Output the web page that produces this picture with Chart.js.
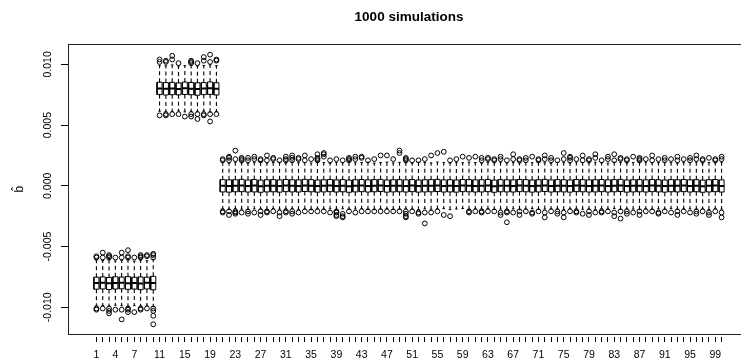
<!DOCTYPE html>
<html>
<head>
<meta charset="utf-8">
<script src="https://cdn.jsdelivr.net/npm/chart.js@4/dist/chart.umd.min.js"></script>
<style>
  html, body { margin: 0; padding: 0; overflow: hidden; background: #fff; }
  #wrap { width: 760px; height: 363px; }
</style>
</head>
<body>
<div id="wrap"><canvas id="c" width="760" height="363"></canvas></div>
<script>
// Box numbers 1..100 (one box per estimated coefficient)
const boxIds = Array.from({ length: 100 }, (_, i) => i + 1);

// Labelled x ticks (every box has a tick mark, only these carry text)
const xTickLabels = ['1','4','7','11','15','19','23','27','31','35','39','43','47','51','55',
  '59','63','67','71','75','79','83','87','91','95','99'];
const yTicks = [-0.010, -0.005, 0.000, 0.005, 0.010];

// Five-number summaries per box
const med = [
  -0.00801,-0.00799,-0.00803,-0.00800,-0.00798,-0.00802,-0.00800,-0.00804,-0.00799,-0.00801,
  0.00802,0.00799,0.00801,0.00798,0.00803,0.00800,0.00797,0.00801,0.00804,0.00799,
  0.00001,-0.00002,0.00000,0.00003,-0.00001,0.00002,-0.00003,0.00000,0.00001,-0.00002,
  0.00002,0.00000,-0.00001,0.00003,0.00001,-0.00002,0.00000,0.00002,-0.00001,0.00001,
  -0.00003,0.00000,0.00002,-0.00001,0.00001,0.00003,-0.00002,0.00000,0.00001,-0.00001,
  0.00002,-0.00002,0.00000,0.00001,0.00003,-0.00001,0.00000,-0.00002,0.00002,0.00001,
  -0.00001,0.00000,0.00002,-0.00003,0.00001,0.00000,-0.00001,0.00002,0.00001,-0.00002,
  0.00000,0.00003,-0.00001,0.00001,0.00000,-0.00002,0.00002,0.00001,-0.00001,0.00000,
  0.00002,-0.00001,0.00001,0.00003,-0.00002,0.00000,0.00001,-0.00001,0.00002,0.00000,
  -0.00002,0.00001,0.00000,0.00002,-0.00001,0.00001,-0.00003,0.00000,0.00002,-0.00001
];
const q3 = [
  -0.00752,-0.00750,-0.00754,-0.00749,-0.00751,-0.00748,-0.00753,-0.00750,-0.00752,-0.00745,
  0.00853,0.00850,0.00852,0.00847,0.00854,0.00851,0.00848,0.00850,0.00855,0.00849,
  0.00051,0.00049,0.00050,0.00053,0.00048,0.00052,0.00047,0.00050,0.00051,0.00049,
  0.00052,0.00050,0.00049,0.00053,0.00051,0.00048,0.00050,0.00052,0.00049,0.00051,
  0.00047,0.00050,0.00052,0.00049,0.00051,0.00053,0.00048,0.00050,0.00051,0.00049,
  0.00052,0.00048,0.00050,0.00051,0.00053,0.00049,0.00050,0.00048,0.00052,0.00051,
  0.00049,0.00050,0.00052,0.00047,0.00051,0.00050,0.00049,0.00052,0.00051,0.00048,
  0.00050,0.00053,0.00049,0.00051,0.00050,0.00048,0.00052,0.00051,0.00049,0.00050,
  0.00052,0.00049,0.00051,0.00053,0.00048,0.00050,0.00051,0.00049,0.00052,0.00050,
  0.00048,0.00051,0.00050,0.00052,0.00049,0.00051,0.00047,0.00050,0.00052,0.00049
];
const q1 = [
  -0.00851,-0.00849,-0.00853,-0.00850,-0.00848,-0.00852,-0.00850,-0.00855,-0.00849,-0.00856,
  0.00751,0.00748,0.00750,0.00749,0.00752,0.00750,0.00746,0.00751,0.00753,0.00748,
  -0.00050,-0.00052,-0.00049,-0.00048,-0.00051,-0.00050,-0.00053,-0.00050,-0.00049,-0.00052,
  -0.00048,-0.00050,-0.00051,-0.00047,-0.00049,-0.00052,-0.00050,-0.00048,-0.00051,-0.00049,
  -0.00053,-0.00050,-0.00048,-0.00051,-0.00049,-0.00047,-0.00052,-0.00050,-0.00049,-0.00051,
  -0.00048,-0.00052,-0.00050,-0.00049,-0.00047,-0.00051,-0.00050,-0.00052,-0.00048,-0.00049,
  -0.00051,-0.00050,-0.00048,-0.00053,-0.00049,-0.00050,-0.00051,-0.00048,-0.00049,-0.00052,
  -0.00050,-0.00047,-0.00051,-0.00049,-0.00050,-0.00052,-0.00048,-0.00049,-0.00051,-0.00050,
  -0.00048,-0.00051,-0.00049,-0.00047,-0.00052,-0.00050,-0.00049,-0.00051,-0.00048,-0.00050,
  -0.00052,-0.00049,-0.00050,-0.00048,-0.00051,-0.00049,-0.00053,-0.00050,-0.00048,-0.00051
];
const whiskHi = [
  -0.00612,-0.00615,-0.00610,-0.00618,-0.00614,-0.00611,-0.00620,-0.00613,-0.00616,-0.00605,
  0.00992,0.00988,0.00995,0.00986,0.00990,0.00993,0.00987,0.00991,0.00996,0.00989,
  0.00192,0.00188,0.00195,0.00190,0.00186,0.00193,0.00197,0.00189,0.00191,0.00194,
  0.00187,0.00196,0.00190,0.00192,0.00188,0.00195,0.00191,0.00186,0.00193,0.00190,
  0.00197,0.00189,0.00192,0.00194,0.00187,0.00191,0.00195,0.00188,0.00193,0.00190,
  0.00186,0.00194,0.00192,0.00189,0.00196,0.00191,0.00188,0.00193,0.00190,0.00195,
  0.00192,0.00187,0.00194,0.00190,0.00196,0.00189,0.00192,0.00188,0.00193,0.00191,
  0.00195,0.00190,0.00186,0.00193,0.00191,0.00188,0.00196,0.00192,0.00189,0.00194,
  0.00190,0.00187,0.00195,0.00192,0.00188,0.00193,0.00191,0.00196,0.00189,0.00192,
  0.00194,0.00190,0.00187,0.00193,0.00191,0.00195,0.00188,0.00192,0.00190,0.00194
];
const whiskLo = [
  -0.00988,-0.00985,-0.00990,-0.00983,-0.00987,-0.00992,-0.00986,-0.00989,-0.00984,-0.00995,
  0.00614,0.00610,0.00612,0.00616,0.00609,0.00613,0.00611,0.00615,0.00608,0.00612,
  -0.00190,-0.00194,-0.00188,-0.00192,-0.00196,-0.00189,-0.00191,-0.00195,-0.00187,-0.00193,
  -0.00190,-0.00186,-0.00194,-0.00191,-0.00197,-0.00188,-0.00192,-0.00190,-0.00195,-0.00189,
  -0.00193,-0.00191,-0.00187,-0.00192,-0.00196,-0.00190,-0.00188,-0.00194,-0.00191,-0.00186,
  -0.00192,-0.00195,-0.00189,-0.00193,-0.00190,-0.00188,-0.00196,-0.00191,-0.00187,-0.00194,
  -0.00190,-0.00192,-0.00188,-0.00195,-0.00191,-0.00193,-0.00189,-0.00196,-0.00190,-0.00187,
  -0.00194,-0.00191,-0.00189,-0.00192,-0.00195,-0.00188,-0.00190,-0.00193,-0.00191,-0.00196,
  -0.00189,-0.00192,-0.00187,-0.00194,-0.00190,-0.00191,-0.00195,-0.00188,-0.00193,-0.00190,
  -0.00192,-0.00186,-0.00194,-0.00191,-0.00189,-0.00193,-0.00190,-0.00195,-0.00188,-0.00192
];

// Points beyond the whiskers, per box
const outHi = [
  [-0.0058,-0.0059],[-0.0055,-0.0059],[-0.0057,-0.0058,-0.0059],[-0.0059],[-0.0055,-0.0059],
  [-0.0053,-0.0058,-0.0059],[-0.0059],[-0.0057,-0.0058,-0.0059],[-0.0057,-0.0058],[-0.0056,-0.0057,-0.0059],
  [0.0102,0.0104],[0.0102,0.0103],[0.0104,0.0107],[0.0101],[],
  [0.0101,0.0102,0.0103],[0.0101],[0.0103,0.0106],[0.0102,0.0108],[0.0103,0.0104],
  [0.0021,0.0022],[0.0021,0.0023,0.0024],[0.0022,0.0029],[0.0021,0.0022,0.0023],[0.0021,0.0023],
  [0.0022,0.0024],[0.0021,0.0022],[0.0021,0.0025],[0.0022,0.0023],[0.0021],
  [0.0021,0.0022,0.0024],[0.0021,0.0023,0.0025],[0.0022,0.0023],[0.0021,0.0025],[0.0022],
  [0.0021,0.0022,0.0023,0.0026],[0.0024,0.0026,0.0027],[0.0021],[0.0022],[0.0021],
  [0.0021,0.0022,0.0023],[0.0022,0.0024],[0.0023,0.0024],[0.0021],[0.0022],
  [0.0025],[0.0025],[0.0022],[0.0027,0.0029],[0.0021,0.0022,0.0023],
  [0.0021],[0.0021],[0.0022],[0.0025],[0.0027],
  [0.0028],[0.0021],[0.0022],[0.0024],[0.0023],
  [0.0024],[0.0021,0.0023],[0.0022,0.0023],[0.0021,0.0022],[0.0022,0.0024],
  [0.0021],[0.0022,0.0026],[0.0021,0.0022],[0.0021,0.0023],[0.0024],
  [0.0021,0.0022],[0.0022,0.0025],[0.0021,0.0023],[0.0021],[0.0022,0.0027],
  [0.0021,0.0023,0.0024],[0.0022],[0.0021,0.0025],[0.0021,0.0022],[0.0023,0.0026],
  [0.0021],[0.0022,0.0024],[0.0021,0.0026],[0.0022,0.0023],[0.0021,0.0022],
  [0.0024],[0.0021,0.0022,0.0023],[0.0022],[0.0021,0.0025],[0.0022],
  [0.0021,0.0023],[0.0022],[0.0021,0.0024],[0.0022],[0.0021,0.0023],
  [0.0022,0.0025],[0.0021,0.0022],[0.0023],[0.0021,0.0022],[0.0022,0.0024]
];
const outLo = [
  [-0.0101,-0.0102],[-0.0101],[-0.0101,-0.0103,-0.0105],[-0.0102],[-0.0102,-0.0110],
  [-0.0101,-0.0102,-0.0104],[-0.0104],[-0.0101,-0.0102],[-0.0101],[-0.0101,-0.0103,-0.0107,-0.0114],
  [0.0058],[0.0058,0.0059],[0.0059],[0.0059],[0.0057],
  [0.0057,0.0059],[0.0055,0.0059],[0.0058,0.0059],[0.0053,0.0059],[0.0059],
  [-0.0021,-0.0022],[-0.0021,-0.0024],[-0.0021,-0.0022,-0.0023],[-0.0022],[-0.0021,-0.0023],
  [-0.0022],[-0.0021,-0.0024],[-0.0021,-0.0022],[-0.0021],[-0.0022,-0.0025],
  [-0.0021,-0.0022],[-0.0021,-0.0023],[-0.0022],[-0.0021],[-0.0021],
  [-0.0021],[-0.0021],[-0.0022],[-0.0021,-0.0022,-0.0024,-0.0025],[-0.0023,-0.0025,-0.0026],
  [-0.0021],[-0.0022],[-0.0021],[-0.0021],[-0.0021],
  [-0.0021],[-0.0021],[-0.0021],[-0.0021],[-0.0021,-0.0023,-0.0025,-0.0026],
  [-0.0021],[-0.0022,-0.0023],[-0.0022,-0.0031],[-0.0022],[-0.0021],
  [-0.0024],[-0.0025],[],[],[-0.0021,-0.0022],
  [-0.0021],[-0.0021,-0.0022],[-0.0021],[-0.0021],[-0.0022,-0.0024],
  [-0.0021,-0.0022,-0.0030],[-0.0022],[-0.0021,-0.0024],[-0.0021],[-0.0022,-0.0023],
  [-0.0021],[-0.0022,-0.0026],[-0.0021],[-0.0021,-0.0023],[-0.0022,-0.0026],
  [-0.0021],[-0.0021,-0.0022],[-0.0023],[-0.0021,-0.0024],[-0.0022],
  [-0.0021,-0.0022],[-0.0021],[-0.0022,-0.0025],[-0.0021,-0.0027],[-0.0021,-0.0023],
  [-0.0022],[-0.0021,-0.0024],[-0.0021],[-0.0021],[-0.0022,-0.0023],
  [-0.0021],[-0.0022],[-0.0021,-0.0024],[-0.0021],[-0.0022],
  [-0.0021,-0.0023],[-0.0021],[-0.0022,-0.0024],[-0.0021],[-0.0022,-0.0026]
];

// Build line/point data for the boxplot parts (a null y breaks the path)
const HALF = 0.4, STAPLE = 0.2, BRK = 0.5;
const boxPts = [], medPts = [], whiskPts = [], staplePts = [], outPts = [];
boxIds.forEach((x, i) => {
  boxPts.push({x: x - HALF, y: q1[i]}, {x: x + HALF, y: q1[i]}, {x: x + HALF, y: q3[i]},
              {x: x - HALF, y: q3[i]}, {x: x - HALF, y: q1[i]}, {x: x - BRK, y: null});
  medPts.push({x: x - HALF, y: med[i]}, {x: x + HALF, y: med[i]}, {x: x - BRK, y: null});
  whiskPts.push({x: x, y: q3[i]}, {x: x, y: whiskHi[i]}, {x: x - BRK, y: null},
                {x: x, y: q1[i]}, {x: x, y: whiskLo[i]}, {x: x - BRK, y: null});
  staplePts.push({x: x - STAPLE, y: whiskHi[i]}, {x: x + STAPLE, y: whiskHi[i]}, {x: x - BRK, y: null},
                 {x: x - STAPLE, y: whiskLo[i]}, {x: x + STAPLE, y: whiskLo[i]}, {x: x - BRK, y: null});
  outHi[i].concat(outLo[i]).forEach(v => outPts.push({x: x, y: v}));
});

const FONT = "'Liberation Sans', Arial, Helvetica, sans-serif";
const lineBase = { type: 'line', borderColor: '#000', pointRadius: 0, spanGaps: false,
                   fill: false, tension: 0, borderJoinStyle: 'miter' };

// Plot frame around the chart area
const framePlugin = {
  id: 'frame',
  afterDatasetsDraw(chart) {
    const { ctx, chartArea: a } = chart;
    ctx.save();
    ctx.strokeStyle = '#222';
    ctx.lineWidth = 1;
    ctx.strokeRect(Math.round(a.left) + 0.5, Math.round(a.top) + 0.5,
                   Math.round(a.right - a.left), Math.round(a.bottom - a.top));
    ctx.restore();
  }
};

new Chart(document.getElementById('c'), {
  type: 'scatter',
  data: {
    datasets: [
      Object.assign({}, lineBase, { data: whiskPts, borderWidth: 1.1, borderDash: [4, 3] }),
      Object.assign({}, lineBase, { data: staplePts, borderWidth: 1 }),
      Object.assign({}, lineBase, { data: boxPts, borderWidth: 1 }),
      Object.assign({}, lineBase, { data: medPts, borderWidth: 2 }),
      { type: 'scatter', data: outPts, pointStyle: 'circle', pointRadius: 2.4,
        pointBorderWidth: 1, pointBorderColor: '#000', pointBackgroundColor: 'rgba(0,0,0,0)' }
    ]
  },
  options: {
    responsive: false,
    devicePixelRatio: 1,
    animation: false,
    layout: { padding: { left: 0, right: 10, top: 0, bottom: 0 } },
    plugins: {
      legend: { display: false },
      tooltip: { enabled: false },
      title: {
        display: true, text: '1000 simulations', color: '#000', fullSize: false,
        font: { family: FONT, size: 13.5, weight: 'bold' },
        padding: { top: 9, bottom: 19 }
      }
    },
    scales: {
      x: {
        type: 'linear', position: 'bottom', min: -3.5, max: 104.5,
        afterBuildTicks: s => { s.ticks = boxIds.map(v => ({ value: v })); },
        afterFit: s => { s.height = 29; },
        ticks: {
          autoSkip: false, maxRotation: 0, minRotation: 0, padding: 7,
          color: '#000', font: { family: FONT, size: 10.5 },
          callback: v => xTickLabels.includes(String(v)) ? String(v) : ''
        },
        grid: { drawOnChartArea: false, drawTicks: true, tickLength: 8, color: '#000' },
        border: { display: true, width: 6, color: 'rgba(0,0,0,0)' }
      },
      y: {
        type: 'linear', min: -0.0122, max: 0.01166,
        afterBuildTicks: s => { s.ticks = yTicks.map(v => ({ value: v })); },
        afterFit: s => { s.width = 68; },
        ticks: {
          autoSkip: false, minRotation: 90, maxRotation: 90, crossAlign: 'center', padding: -2,
          color: '#000', font: { family: FONT, size: 10.5 },
          callback: v => Number(v).toFixed(3)
        },
        grid: { drawOnChartArea: false, drawTicks: true, tickLength: 7, color: '#000' },
        border: { display: false },
        title: {
          display: true, text: 'b\u0302', color: '#000',
          font: { family: FONT, size: 12 }, padding: { top: 12, bottom: 0 }
        }
      }
    }
  },
  plugins: [framePlugin]
});
</script>
</body>
</html>
